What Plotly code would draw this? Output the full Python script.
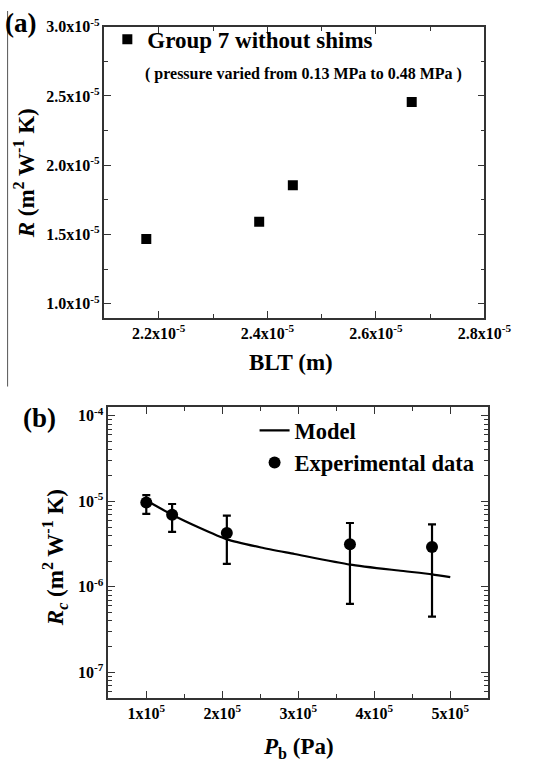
import plotly.graph_objects as go

# ---------------- data ----------------
# Panel (a)
blt_m = [2.177e-5, 2.385e-5, 2.447e-5, 2.666e-5]
r_a = [1.467e-5, 1.592e-5, 1.856e-5, 2.457e-5]
a_xticks = [2.2e-5, 2.4e-5, 2.6e-5, 2.8e-5]
a_xticktext = ["2.2x10<sup>-5</sup>", "2.4x10<sup>-5</sup>", "2.6x10<sup>-5</sup>", "2.8x10<sup>-5</sup>"]
a_yticks = [1.0e-5, 1.5e-5, 2.0e-5, 2.5e-5, 3.0e-5]
a_yticktext = ["1.0x10<sup>-5</sup>", "1.5x10<sup>-5</sup>", "2.0x10<sup>-5</sup>",
               "2.5x10<sup>-5</sup>", "3.0x10<sup>-5</sup>"]

# Panel (b)
model_p = [0.99e5, 1.34e5, 1.7e5, 2.06e5, 2.51e5, 2.95e5, 3.68e5, 4.32e5, 4.76e5, 5.0e5]
model_rc = [1.035e-5, 6.96e-6, 4.9e-6, 3.59e-6, 2.88e-6, 2.42e-6, 1.82e-6, 1.55e-6, 1.40e-6, 1.30e-6]
exp_p = [1.0e5, 1.34e5, 2.06e5, 3.68e5, 4.76e5]
exp_rc = [9.66e-6, 6.96e-6, 4.27e-6, 3.14e-6, 2.92e-6]
exp_hi = [1.18e-5, 9.3e-6, 6.78e-6, 5.57e-6, 5.38e-6]
exp_lo = [7.14e-6, 4.4e-6, 1.85e-6, 6.3e-7, 4.47e-7]
b_xticks = [1e5, 2e5, 3e5, 4e5, 5e5]
b_xticktext = ["1x10<sup>5</sup>", "2x10<sup>5</sup>", "3x10<sup>5</sup>", "4x10<sup>5</sup>", "5x10<sup>5</sup>"]
b_yticks = [1e-7, 1e-6, 1e-5, 1e-4]
b_yticktext = ["10<sup>-7</sup>", "10<sup>-6</sup>", "10<sup>-5</sup>", "10<sup>-4</sup>"]

err_plus = [h - v for h, v in zip(exp_hi, exp_rc)]
err_minus = [v - l for v, l in zip(exp_rc, exp_lo)]

W, H = 539, 765
FONT = "Liberation Serif"
AX = "#333333"


def bold(labels):
    return ["<b>" + s + "</b>" for s in labels]


fig = go.Figure()

fig.add_trace(go.Scatter(
    x=blt_m, y=r_a, mode="markers", name="<b>Group 7 without shims</b>",
    marker=dict(symbol="square", size=10, color="black"),
    xaxis="x", yaxis="y", legend="legend"))

fig.add_trace(go.Scatter(
    x=model_p, y=model_rc, mode="lines", name="<b>Model</b>",
    line=dict(color="black", width=2.2, shape="spline", smoothing=0.6),
    xaxis="x2", yaxis="y2", legend="legend2", legendgroup="m"))

fig.add_trace(go.Scatter(
    x=exp_p, y=exp_rc, mode="markers", name="<b>Experimental data</b>",
    marker=dict(symbol="circle", size=12, color="black"),
    error_y=dict(type="data", symmetric=False, array=err_plus, arrayminus=err_minus,
                 color="black", thickness=2.2, width=4),
    xaxis="x2", yaxis="y2", legend="legend2", legendgroup="e"))


def px(x):
    return x / W


def py(y):
    return 1 - y / H


common = dict(showline=True, linecolor=AX, linewidth=1.6, mirror="ticks",
              ticks="inside", ticklen=7, tickwidth=1.4, tickcolor=AX,
              showgrid=False, zeroline=False,
              tickfont=dict(family=FONT, size=16, color="black", weight="bold"))

fig.update_layout(
    width=W, height=H,
    margin=dict(l=0, r=0, t=0, b=0),
    paper_bgcolor="white", plot_bgcolor="white",
    font=dict(family=FONT, color="black"),
    xaxis=dict(domain=[px(110), px(510)], anchor="y", range=[2.1e-5, 2.8e-5],
               tickmode="array", tickvals=a_xticks, ticktext=bold(a_xticktext),
               minor=dict(ticks="inside", ticklen=4, tickwidth=1.2, tickcolor=AX,
                          tick0=2.1e-5, dtick=0.1e-5),
               **common),
    yaxis=dict(domain=[py(311), py(16)], anchor="x", range=[0.9e-5, 3.0e-5],
               tickmode="array", tickvals=a_yticks, ticktext=bold(a_yticktext),
               minor=dict(ticks="inside", ticklen=4, tickwidth=1.2, tickcolor=AX,
                          tick0=1.0e-5, dtick=0.25e-5),
               **common),
    xaxis2=dict(domain=[px(114), px(514)], anchor="y2", range=[0.5e5, 5.5e5],
                tickmode="array", tickvals=b_xticks, ticktext=bold(b_xticktext),
                minor=dict(ticks="inside", ticklen=4, tickwidth=1.2, tickcolor=AX,
                           tick0=0.5e5, dtick=0.5e5),
                **common),
    yaxis2=dict(domain=[py(697), py(402)], anchor="x2", type="log", range=[-7.3, -3.9],
                tickmode="array", tickvals=b_yticks, ticktext=bold(b_yticktext),
                minor=dict(ticks="inside", ticklen=4, tickwidth=1.2, tickcolor=AX,
                           dtick="D1"),
                **common),
    legend=dict(x=px(113), y=py(7), xanchor="left", yanchor="top",
                bgcolor="rgba(0,0,0,0)", font=dict(family=FONT, size=23, color="black")),
    legend2=dict(x=px(268), y=py(404), xanchor="left", yanchor="top",
                 bgcolor="rgba(0,0,0,0)", tracegroupgap=0, traceorder="grouped",
                 font=dict(family=FONT, size=22.5, color="black")),
    showlegend=True,
)

ann = [
    dict(text="<b>(a)</b>", x=px(22), y=py(12), font=dict(size=27)),
    dict(text="<b>(b)</b>", x=px(42), y=py(413), font=dict(size=27)),
    dict(text="<b>( pressure varied from 0.13 MPa to 0.48 MPa )</b>", x=px(319), y=py(64),
         font=dict(size=16)),
    dict(text="<b><i>R</i> (m<sup>2</sup> W<sup>-1</sup> K)</b>", x=px(26), y=py(165),
         textangle=-90, font=dict(size=23)),
    dict(text="<b>BLT (m)</b>", x=px(306), y=py(357), font=dict(size=23)),
    dict(text="<b><i>R<sub>c</sub></i> (m<sup>2</sup> W<sup>-1</sup> K)</b>", x=px(57), y=py(555),
         textangle=-90, font=dict(size=23)),
    dict(text="<b><i>P</i><sub>b</sub> (Pa)</b>", x=px(314), y=py(748), font=dict(size=23)),
]
fig.update_layout(annotations=[
    dict(xref="paper", yref="paper", showarrow=False, xanchor="center", yanchor="middle",
         **{k: v for k, v in a.items() if k != "font"},
         font=dict(family=FONT, color="black", **a["font"])) for a in ann
])

fig.add_shape(type="line", xref="paper", yref="paper", x0=px(8), x1=px(8), y0=py(0), y1=py(381),
              line=dict(color="#555555", width=1))

fig.write_html("out.html")
